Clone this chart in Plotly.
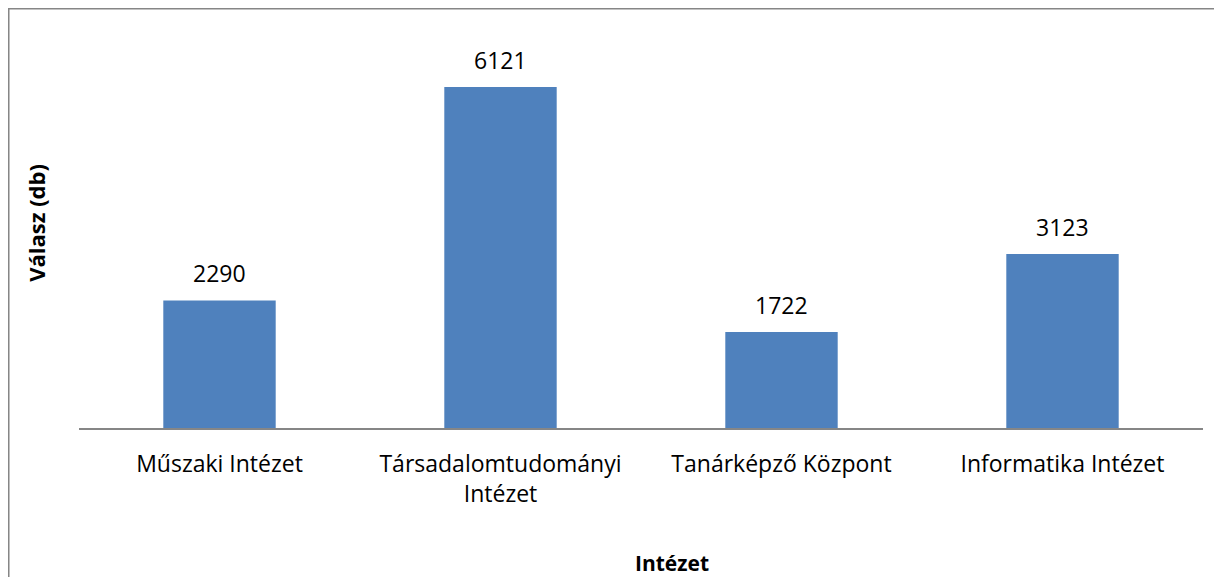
import plotly.graph_objects as go

CATEGORIES = ["Műszaki Intézet", "Társadalomtudományi Intézet", "Tanárképző Központ", "Informatika Intézet"]
TICK_LABELS = ["Műszaki Intézet", "Társadalomtudományi<br>Intézet", "Tanárképző Központ", "Informatika Intézet"]
VALUES = [2290, 6121, 1722, 3123]

BAR_COLOR = "#4F81BD"
AXIS_GRAY = "#868686"
FONT = "Open Sans"

fig = go.Figure()
fig.add_trace(go.Bar(
    x=CATEGORIES, y=VALUES,
    marker=dict(color=BAR_COLOR, line=dict(width=0)),
    hoverinfo="x+y",
))

# value labels above bars
for cat, val in zip(CATEGORIES, VALUES):
    fig.add_annotation(
        x=cat, y=val, text=str(val), showarrow=False,
        yanchor="bottom", yshift=9,
        font=dict(family=FONT, size=23, color="#000000"),
    )

# axis titles
fig.add_annotation(
    xref="paper", yref="paper", x=-0.0383, y=0.526,
    xanchor="center", yanchor="middle",
    text="<b>Válasz (db)</b>", textangle=-90, showarrow=False,
    font=dict(family=FONT, size=22, color="#000000"),
)
fig.add_annotation(
    xref="paper", yref="paper", x=0.528, y=-0.346,
    xanchor="center", yanchor="middle",
    text="<b>Intézet</b>", showarrow=False,
    font=dict(family=FONT, size=21, color="#000000"),
)

# chart border (only top/left visible in frame)
fig.add_shape(
    type="rect", xref="paper", yref="paper",
    x0=-0.0627, x1=1.2, y0=-0.6, y1=1.0756,
    line=dict(color=AXIS_GRAY, width=2),
)

fig.update_layout(
    width=1222, height=577,
    margin=dict(l=71, r=27, t=30, b=157),
    paper_bgcolor="white", plot_bgcolor="white",
    bargap=0.6, showlegend=False,
    font=dict(family=FONT, size=23, color="#000000"),
)
fig.update_xaxes(
    tickvals=CATEGORIES, ticktext=TICK_LABELS,
    showline=True, linecolor=AXIS_GRAY, linewidth=2,
    ticks="", ticklabelstandoff=14, showgrid=False,
    tickfont=dict(family=FONT, size=23, color="#000000"),
)
fig.update_yaxes(
    range=[0, 7000], showticklabels=False, showgrid=False,
    zeroline=False, showline=False, ticks="",
)

fig.write_html("out.html")
